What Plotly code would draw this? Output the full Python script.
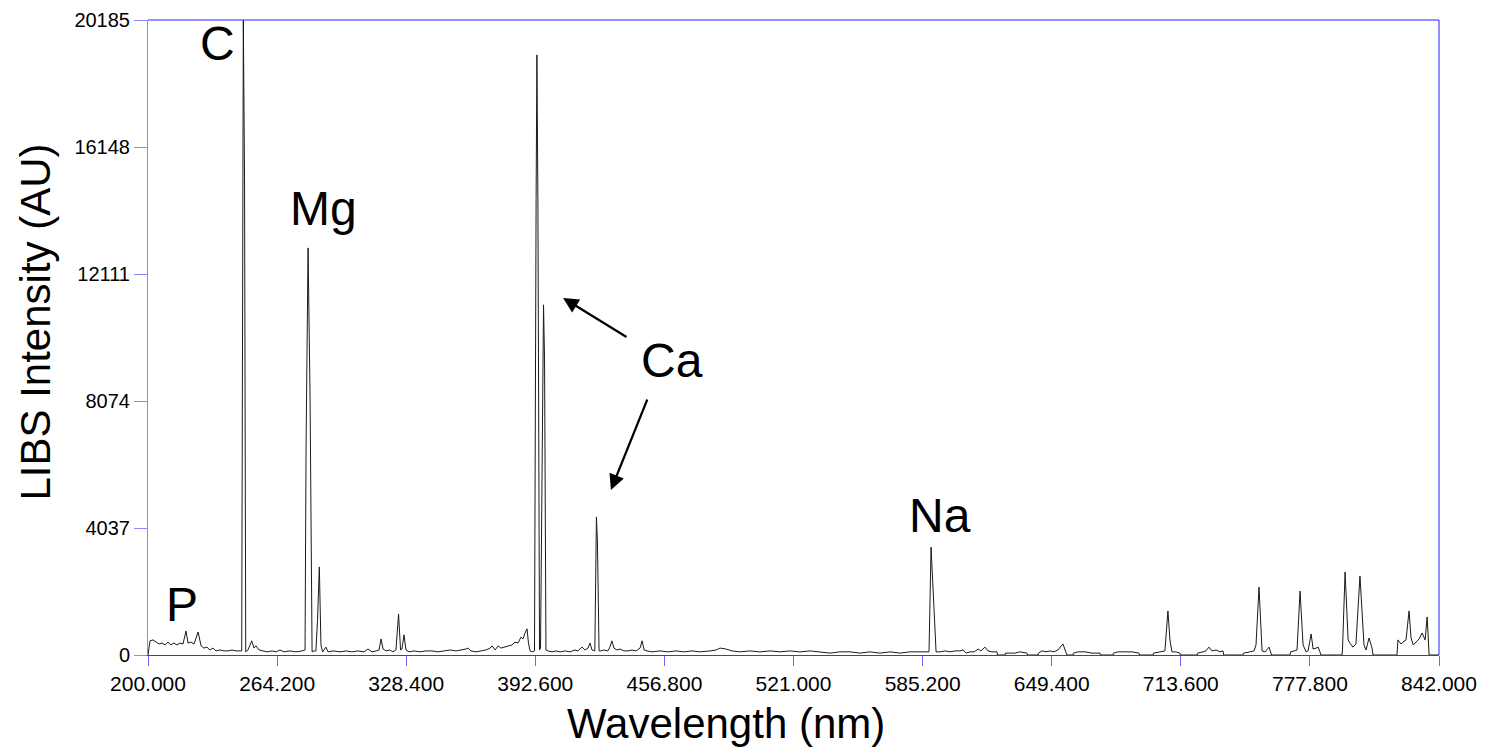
import plotly.graph_objects as go

# ---- data (wavelength in nm, intensity in AU) ----
wl_uv = [200.0, 201.0, 202.5, 204.0, 205.5, 207.0, 208.5, 209.9, 211.4, 212.9, 214.4, 215.9, 217.4,
         218.9, 219.9, 221.4, 222.9, 224.9, 226.4, 227.8, 229.3, 230.8, 232.3, 233.8, 235.8, 237.8,
         239.8, 241.8, 243.8, 246.6, 247.4, 248.0, 248.6, 249.7, 251.6, 252.7, 253.7, 255.2, 257.2,
         259.2, 261.7, 263.7, 265.6, 267.6, 270.6, 273.6, 276.6, 278.1, 278.6, 279.6, 280.6, 281.6,
         282.6, 283.5, 284.3, 285.2, 286.0, 286.8, 288.5, 289.5, 292.0, 295.5, 298.5, 301.4, 304.4,
         307.4, 309.4, 311.4, 313.4, 314.9, 315.9, 316.9, 318.4, 320.3, 321.8, 323.3, 324.6, 325.6,
         326.3, 327.3, 328.3, 329.8, 332.3, 335.3, 338.2, 341.2, 344.2, 347.2, 350.2, 353.2, 356.2,
         358.1, 359.1, 360.6, 363.1, 366.1, 368.1, 370.1, 371.1, 372.6, 374.1, 375.5, 377.5, 379.5,
         381.0, 382.5, 384.0, 385.5, 386.5, 387.5, 388.5, 389.2, 390.0, 391.0]
int_uv = [0, 450, 480, 410, 350, 380, 320, 410, 320, 380, 320, 380, 350,
          760, 380, 410, 350, 730, 290, 220, 250, 160, 220, 130, 160, 130,
          130, 160, 130, 130, 20185, 15200, 100, 160, 450, 220, 290, 160, 130,
          100, 130, 100, 160, 100, 130, 100, 130, 160, 6580, 12940, 8110, 100,
          130, 130, 1100, 2800, 320, 100, 250, 100, 130, 100, 130, 100, 130,
          100, 190, 100, 130, 160, 510, 190, 130, 160, 100, 160, 1300, 160,
          190, 640, 160, 100, 130, 100, 130, 130, 100, 130, 160, 130, 160,
          190, 220, 130, 100, 130, 160, 220, 290, 160, 290, 220, 250, 290,
          320, 410, 380, 570, 510, 700, 830, 380, 130, 100]

wl_vis = [392.2, 393.0, 393.4, 393.9, 394.7, 395.2, 396.2, 396.7, 397.2, 397.9, 398.9, 400.9, 402.9,
          404.9, 407.4, 409.9, 412.3, 413.8, 415.8, 417.3, 418.8, 419.8, 420.8, 422.2, 423.0, 423.5,
          424.3, 425.2, 426.7, 428.7, 429.7, 430.7, 431.7, 433.2, 434.7, 436.7, 438.7, 440.7, 442.7,
          444.7, 445.7, 446.7, 448.2, 450.6, 454.6, 458.6, 462.6, 466.5, 470.5, 474.5, 479.5, 482.5,
          484.5, 487.4, 490.4, 494.4, 499.4, 504.3, 509.3, 514.3, 519.3, 524.2, 529.2, 534.2, 539.2,
          544.1, 549.1, 554.1, 559.0, 564.0, 569.0, 574.0, 578.9, 583.9, 586.4, 588.4, 589.4, 590.4,
          591.9, 593.9, 596.3, 598.8, 601.3, 603.8, 605.3, 606.8, 608.8, 610.8, 612.8, 614.2, 616.2,
          617.7, 619.7, 622.2]
int_vis = [130, 14470, 19075, 14370, 160, 220, 9380, 11130, 9380, 160, 130, 100, 130,
           100, 130, 100, 160, 130, 250, 160, 220, 380, 160, 130, 4390, 3600,
           130, 130, 160, 130, 250, 450, 220, 160, 190, 130, 130, 160, 130,
           220, 450, 160, 130, 100, 130, 100, 130, 100, 130, 100, 130, 160,
           220, 190, 130, 100, 130, 100, 130, 100, 130, 100, 130, 100, 60,
           100, 100, 60, 100, 60, 100, 60, 100, 100, 100, 100, 3430, 2000,
           100, 100, 130, 100, 130, 130, 160, 60, 100, 100, 190, 130, 250,
           130, 100, 100]

wl_nir = [622.4, 626.2, 626.4, 628.7, 631.2, 633.6, 637.1, 637.4, 642.6, 642.8, 644.6, 646.6, 648.6,
          650.5, 652.5, 655.0, 656.5, 657.0, 660.0, 660.2, 662.5, 666.0, 669.4, 673.4, 673.7, 679.9,
          680.1, 682.4, 685.9, 689.3, 692.8, 693.1, 699.8, 700.0, 703.3, 705.7, 707.2, 708.2, 709.2,
          711.2, 713.2, 713.4, 721.7, 721.9, 724.6, 726.1, 727.6, 729.1, 731.1, 733.1, 734.6, 734.9,
          744.5, 744.8, 748.0, 750.0, 751.0, 752.5, 754.0, 755.5, 757.5, 758.5, 758.7, 767.9, 768.2,
          769.9, 771.4, 772.9, 774.4, 775.9, 776.9, 778.4, 779.4, 780.9, 781.9, 782.8, 783.3, 793.8,
          794.0, 795.3, 796.8, 797.7, 799.2, 800.7, 802.7, 804.7, 805.7, 807.2, 808.7, 809.2, 821.1,
          821.6, 823.1, 824.1, 825.6, 827.1, 828.1, 829.2, 830.7, 832.1, 833.6, 835.1, 836.1, 837.1,
          842.0]
int_nir = [0, 0, 60, 60, 60, 100, 60, 0, 0, 60, 130, 100, 130,
           100, 160, 350, 60, 0, 0, 60, 100, 100, 60, 60, 0, 0,
           60, 100, 100, 100, 60, 0, 0, 60, 100, 130, 1400, 480, 100,
           100, 60, 0, 0, 60, 100, 130, 250, 130, 160, 100, 130, 0,
           0, 60, 100, 130, 320, 2160, 130, 100, 250, 30, 0, 0, 100,
           130, 160, 2030, 320, 100, 130, 670, 190, 220, 250, 100, 0, 0,
           160, 2640, 480, 380, 250, 350, 2510, 320, 160, 540, 220, 0, 0,
           480, 350, 410, 480, 1400, 540, 320, 410, 510, 700, 480, 1210, 0,
           0]

wavelength = wl_uv + wl_vis + wl_nir
intensity = int_uv + int_vis + int_nir

x_ticks = [200.0, 264.2, 328.4, 392.6, 456.8, 521.0, 585.2, 649.4, 713.6, 777.8, 842.0]
x_tick_text = [f"{v:.3f}" for v in x_ticks]
y_ticks = [0, 4037, 8074, 12111, 16148, 20185]
y_tick_text = [str(v) for v in y_ticks]

element_labels = ["C", "Mg", "Ca", "Na", "P"]
label_x = [234.8, 287.3, 460.6, 593.9, 216.9]
label_y = [19450, 14200, 9350, 4450, 1590]

# arrows: (head_x, head_y, tail_x, tail_y) for the Ca label
arrow_head_x = [406.4, 430.2]
arrow_head_y = [11350, 5245]
arrow_tail_x = [438.7, 448.6]
arrow_tail_y = [10080, 8170]

FONT = "Arial, Liberation Sans, sans-serif"

fig = go.Figure()
fig.add_trace(go.Scatter(x=wavelength, y=intensity, mode="lines",
                         line=dict(color="#1a1a1a", width=1), hoverinfo="skip",
                         showlegend=False))

annotations = []
for t, x, y in zip(element_labels, label_x, label_y):
    annotations.append(dict(x=x, y=y, xref="x", yref="y", text=t, showarrow=False,
                            font=dict(family=FONT, size=48, color="black")))
for hx, hy, tx, ty in zip(arrow_head_x, arrow_head_y, arrow_tail_x, arrow_tail_y):
    annotations.append(dict(x=hx, y=hy, ax=tx, ay=ty, xref="x", yref="y", axref="x", ayref="y",
                            text="", showarrow=True, arrowhead=2, arrowsize=1.4,
                            arrowwidth=2.2, arrowcolor="black"))
annotations.append(dict(x=0.4477, y=-0.068, xref="paper", yref="paper", yanchor="top",
                        text="Wavelength (nm)", showarrow=False,
                        font=dict(family=FONT, size=42, color="black")))
annotations.append(dict(x=-0.0875, y=0.5236, xref="paper", yref="paper", xanchor="center",
                        text="LIBS Intensity (AU)", textangle=-90, showarrow=False,
                        font=dict(family=FONT, size=42, color="black")))

shapes = [
    dict(type="line", xref="paper", yref="paper", x0=1, x1=1, y0=0, y1=1,
         line=dict(color="#2222ff", width=1)),
    dict(type="line", xref="paper", yref="paper", x0=0, x1=1, y0=1, y1=1,
         line=dict(color="#2222ff", width=1)),
]

fig.update_layout(
    width=1473, height=740,
    margin=dict(l=140, r=42, t=12, b=93),
    paper_bgcolor="white", plot_bgcolor="white",
    font=dict(family=FONT, color="black"),
    annotations=annotations, shapes=shapes,
    xaxis=dict(range=[200, 842], tickvals=x_ticks, ticktext=x_tick_text,
               showgrid=False, zeroline=False, showline=True, linecolor="#3333ff",
               linewidth=1, ticks="outside", ticklen=10, tickcolor="#6666ff",
               automargin=False,
               tickfont=dict(family=FONT, size=21, color="black")),
    yaxis=dict(range=[0, 20185], tickvals=y_ticks, ticktext=y_tick_text,
               showgrid=False, zeroline=False, showline=True, linecolor="#8888ff",
               linewidth=1, ticks="outside", ticklen=13, tickcolor="#8888ff",
               automargin=False,
               tickfont=dict(family=FONT, size=20, color="black")),
)

fig.write_html("out.html")
